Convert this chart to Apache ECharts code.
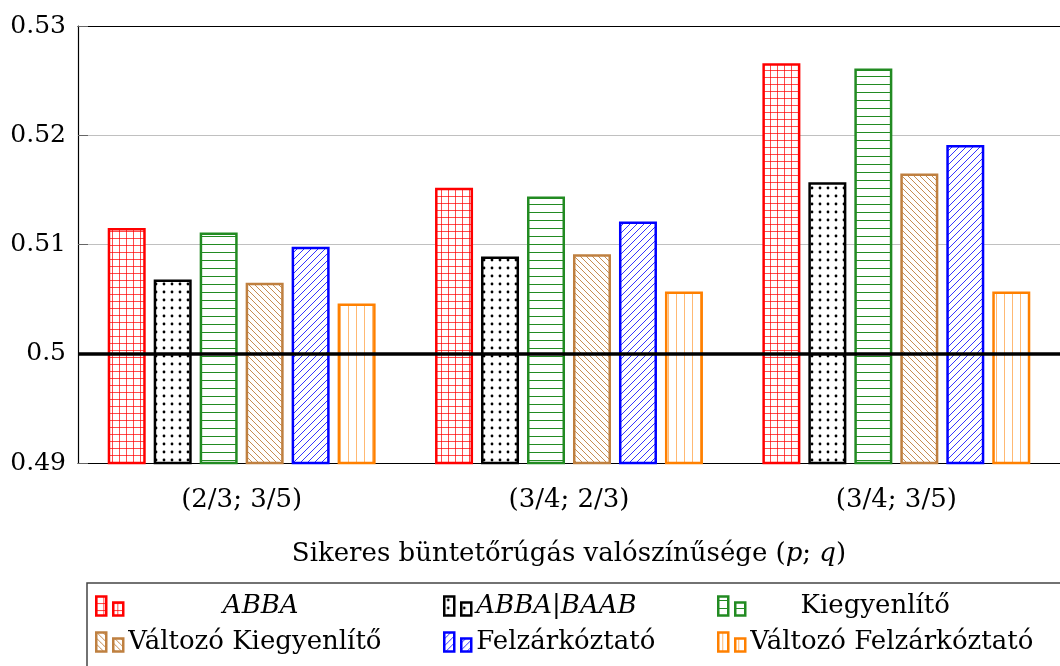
<!DOCTYPE html>
<html><head><meta charset="utf-8">
<script src="https://cdn.jsdelivr.net/npm/echarts@6/dist/echarts.min.js"></script>
<style>html,body{margin:0;padding:0;background:#fff}#c{width:1060px;height:666px}</style>
</head><body><div id="c"></div>
<script>
const categories = ['(2/3; 3/5)', '(3/4; 2/3)', '(3/4; 3/5)'];
const seriesNames = ['ABBA', 'ABBA|BAAB', 'Kiegyenlítő', 'Változó Kiegyenlítő', 'Felzárkóztató', 'Változó Felzárkóztató'];
const abba = [0.5115, 0.5152, 0.5266];
const abbaBaab = [0.5068, 0.5089, 0.5157];
const kiegyenlito = [0.5111, 0.5144, 0.5261];
const valtozoKiegyenlito = [0.5065, 0.5091, 0.5165];
const felzarkoztato = [0.5098, 0.5121, 0.5191];
const valtozoFelzarkoztato = [0.5046, 0.5057, 0.5057];
const yMin = 0.49, yMax = 0.53, yStep = 0.01;
const baseline = 0.5;
const xTitle = 'Sikeres büntetőrúgás valószínűsége ({i|p}; {i|q})';

const FONT = 'DejaVu Serif';
const colors = ['#ff0000', '#000000', '#228b22', '#bf8040', '#0000ff', '#ff8000'];
const kinds = ['grid', 'dots', 'hlines', 'back', 'fwd', 'vlines'];
const values = [abba, abbaBaab, kiegyenlito, valtozoKiegyenlito, felzarkoztato, valtozoFelzarkoztato];

function makePattern(kind, color) {
  const s = kind === 'back' ? 6 : (kind === 'fwd' ? 7 : (kind === 'grid' ? 7 : 8));
  const c = document.createElement('canvas');
  c.width = s; c.height = s;
  const g = c.getContext('2d');
  g.fillStyle = '#fff'; g.fillRect(0, 0, s, s);
  g.strokeStyle = color; g.fillStyle = color; g.lineWidth = 1;
  g.beginPath();
  if (kind === 'grid') {
    g.globalAlpha = 0.7;
    g.moveTo(0.5, 0); g.lineTo(0.5, s);
    g.moveTo(0, 0.5); g.lineTo(s, 0.5);
    g.stroke();
  } else if (kind === 'dots') {
    g.arc(4, 4, 1.4, 0, Math.PI * 2); g.fill();
  } else if (kind === 'hlines') {
    g.moveTo(0, 4.5); g.lineTo(s, 4.5); g.stroke();
  } else if (kind === 'vlines') {
    g.globalAlpha = 0.55;
    g.moveTo(4.5, 0); g.lineTo(4.5, s); g.stroke();
  } else if (kind === 'back') {
    g.lineWidth = 0.9;
    g.moveTo(-1, -1); g.lineTo(s + 1, s + 1);
    g.moveTo(-1, s - 1); g.lineTo(1, s + 1);
    g.moveTo(s - 1, -1); g.lineTo(s + 1, 1);
    g.stroke();
  } else if (kind === 'fwd') {
    g.lineWidth = 0.8;
    g.moveTo(-1, s + 1); g.lineTo(s + 1, -1);
    g.moveTo(-1, 1); g.lineTo(1, -1);
    g.moveTo(s - 1, s + 1); g.lineTo(s + 1, s - 1);
    g.stroke();
  }
  return { image: c, repeat: 'repeat' };
}

const series = seriesNames.map((name, i) => ({
  name: name,
  type: 'bar',
  data: values[i],
  barWidth: 38,
  barGap: '21%',
  itemStyle: { color: makePattern(kinds[i], colors[i]), borderColor: colors[i], borderWidth: 2.5 },
  emphasis: { disabled: true }
}));
series[series.length - 1].markLine = {
  silent: true, symbol: ['none', 'none'], label: { show: false },
  lineStyle: { color: '#000', width: 3.5, type: 'solid' },
  data: [{ yAxis: baseline }]
};

const legendPos = [
  { left: 95, top: 593, w: 265, align: 'center' },
  { left: 443, top: 593, w: 205, align: 'left' },
  { left: 717, top: 593, w: 250, align: 'center' },
  { left: 95, top: 629, w: 265, align: 'left' },
  { left: 443, top: 629, w: 205, align: 'left' },
  { left: 717, top: 629, w: 300, align: 'left' }
];
const italicNames = { 'ABBA': true, 'ABBA|BAAB': true };
const legends = seriesNames.map((name, i) => ({
  data: [name], left: legendPos[i].left, top: legendPos[i].top, padding: 0,
  selectedMode: false,
  icon: 'path://M0,0 H10 V19 H0 Z M17,6 H27 V19 H17 Z',
  itemWidth: 27, itemHeight: 20,
  itemStyle: { borderWidth: 2.5 },
  formatter: n => '{t|' + n + '}',
  textStyle: {
    rich: { t: { fontFamily: FONT, fontSize: 26, color: '#000', width: legendPos[i].w, align: legendPos[i].align,
      fontStyle: italicNames[name] ? 'italic' : 'normal' } }
  }
}));

const chart = echarts.init(document.getElementById('c'), null, { renderer: 'canvas' });
chart.setOption({
  animation: false,
  backgroundColor: '#fff',
  grid: { left: 78, top: 26, width: 996, height: 437 },
  legend: legends,
  graphic: [{ type: 'rect', shape: { x: 87, y: 583, width: 1000, height: 120 },
    style: { fill: 'none', stroke: '#444', lineWidth: 1.5 }, z: 0 }],
  xAxis: [{
    type: 'category', data: categories, position: 'bottom',
    axisLine: { lineStyle: { color: '#000', width: 1.2 } },
    axisTick: { alignWithLabel: true, length: 10, lineStyle: { color: '#777' } },
    axisLabel: { fontFamily: FONT, fontSize: 26, color: '#000', margin: 24 },
    name: xTitle, nameLocation: 'middle', nameGap: 78,
    nameTextStyle: { fontFamily: FONT, fontSize: 26, color: '#000',
      rich: { i: { fontFamily: FONT, fontSize: 26, fontStyle: 'italic', color: '#000' } } }
  }, {
    type: 'category', data: categories, position: 'top',
    axisLine: { lineStyle: { color: '#000', width: 1.2 } },
    axisTick: { alignWithLabel: true, length: 10, lineStyle: { color: '#777' } },
    axisLabel: { show: false }
  }],
  yAxis: {
    type: 'value', min: yMin, max: yMax, interval: yStep,
    axisLine: { show: true, lineStyle: { color: '#000', width: 1.2 } },
    axisTick: { show: true, inside: true, length: 10, lineStyle: { color: '#666' } },
    axisLabel: { fontFamily: FONT, fontSize: 25, color: '#000', margin: 12 },
    splitLine: { lineStyle: { color: '#c0c0c0', width: 1 } }
  },
  series: series
});
</script>
</body></html>
